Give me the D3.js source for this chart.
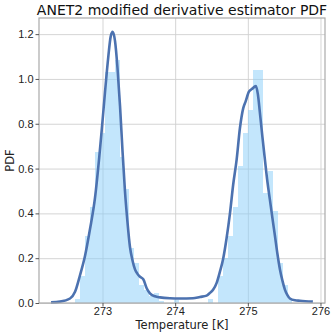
<!DOCTYPE html>
<html>
<head>
<meta charset="utf-8">
<script src="https://cdn.jsdelivr.net/npm/d3@7"></script>
<style>
  body { margin: 0; background: #fff; }
  svg { display: block; font-family: "DejaVu Sans", sans-serif; }
  .axis text { fill: #222; font-size: 11px; }
  .axis path { display: none; }
  .axis line { stroke: #555; }
  .grid line { stroke: #d0d0d0; stroke-width: 0.9; }
  .grid path { display: none; }
</style>
</head>
<body>
<div id="chart"></div>
<script>
// histogram (density), equal-width bins
const histStart = 272.622;
const binWidth = 0.068;
const histDensity = [
  0.02, 0.12, 0.30, 0.43, 0.675, 0.76, 1.03, 1.03, 1.085, 0.65,
  0.51, 0.245, 0.18, 0.08, 0.06, 0.03, 0.045, 0.01, 0, 0,
  0.015, 0, 0, 0, 0, 0, 0, 0.02, 0, 0.12,
  0.20, 0.30, 0.43, 0.61, 0.76, 0.86, 1.04, 1.04, 0.49, 0.59,
  0.41, 0.18, 0.08, 0.02
];

// KDE curve
const kdeT = [
  272.292, 272.415, 272.553, 272.622, 272.691, 272.759, 272.828, 272.897, 272.952, 272.989,
  273.034, 273.080, 273.113, 273.140, 273.172, 273.206, 273.241, 273.275, 273.309, 273.344,
  273.378, 273.413, 273.447, 273.481, 273.516, 273.561, 273.608, 273.653, 273.722, 273.791,
  273.928, 274.066, 274.245, 274.341, 274.433, 274.479, 274.524, 274.571, 274.616, 274.662,
  274.708, 274.754, 274.799, 274.846, 274.891, 274.937, 274.970, 275.015, 275.056, 275.111,
  275.139, 275.166, 275.201, 275.235, 275.270, 275.304, 275.338, 275.373, 275.407, 275.442,
  275.476, 275.510, 275.545, 275.579, 275.648, 275.717, 275.895
];
const kdeDensity = [
  0.003, 0.006, 0.02, 0.05, 0.125, 0.21, 0.33, 0.47, 0.64, 0.77,
  0.94, 1.10, 1.19, 1.21, 1.17, 1.05, 0.88, 0.68, 0.50, 0.36,
  0.25, 0.19, 0.15, 0.13, 0.117, 0.106, 0.066, 0.043, 0.03, 0.025,
  0.021, 0.02, 0.021, 0.027, 0.033, 0.045, 0.06, 0.09, 0.14, 0.20,
  0.29, 0.40, 0.53, 0.64, 0.78, 0.87, 0.90, 0.943, 0.955, 0.968,
  0.93, 0.85, 0.74, 0.64, 0.54, 0.46, 0.38, 0.30, 0.22, 0.15,
  0.10, 0.06, 0.035, 0.02, 0.012, 0.01, 0.006
];

const xTicks = [273, 274, 275, 276];
const yTicks = [0.0, 0.2, 0.4, 0.6, 0.8, 1.0, 1.2];
const xDomain = [272.126, 276.062];
const yDomain = [0, 1.272];

const totalWidth = 332, totalHeight = 335;
const margin = { top: 18, right: 7, bottom: 32, left: 39 };
const width = totalWidth - margin.left - margin.right;
const height = totalHeight - margin.top - margin.bottom;

const svg = d3.select('#chart')
  .append('svg')
  .attr('width', totalWidth)
  .attr('height', totalHeight);

const g = svg.append('g')
  .attr('transform', `translate(${margin.left},${margin.top})`);

const x = d3.scaleLinear().domain(xDomain).range([0, width]);
const y = d3.scaleLinear().domain(yDomain).range([height, 0]);

// grid
g.append('g')
  .attr('class', 'grid')
  .call(d3.axisLeft(y).tickValues(yTicks).tickSize(-width).tickFormat(''));
g.append('g')
  .attr('class', 'grid')
  .attr('transform', `translate(0,${height})`)
  .call(d3.axisBottom(x).tickValues(xTicks).tickSize(-height).tickFormat(''));

// histogram bars
const bins = histDensity.map((d, i) => ({
  x0: histStart + i * binWidth,
  x1: histStart + (i + 1) * binWidth,
  v: d
}));
g.append('g')
  .selectAll('rect')
  .data(bins.filter(b => b.v > 0))
  .join('rect')
  .attr('x', d => x(d.x0))
  .attr('width', d => x(d.x1) - x(d.x0))
  .attr('y', d => y(d.v))
  .attr('height', d => y(0) - y(d.v))
  .attr('fill', '#87cefa')
  .attr('fill-opacity', 0.5)
  .attr('shape-rendering', 'crispEdges');

// kde line
const kde = kdeT.map((t, i) => [t, kdeDensity[i]]);
g.append('path')
  .datum(kde)
  .attr('fill', 'none')
  .attr('stroke', '#4c72b0')
  .attr('stroke-width', 2.6)
  .attr('stroke-linejoin', 'round')
  .attr('d', d3.line().x(d => x(d[0])).y(d => y(d[1])).curve(d3.curveMonotoneX));

// frame
g.append('rect')
  .attr('width', width)
  .attr('height', height)
  .attr('fill', 'none')
  .attr('stroke', '#aaaaaa')
  .attr('stroke-width', 1.2);

// axes
g.append('g')
  .attr('class', 'axis')
  .attr('transform', `translate(0,${height})`)
  .call(d3.axisBottom(x).tickValues(xTicks).tickSize(3.5).tickPadding(1).tickFormat(d3.format('d')));
g.append('g')
  .attr('class', 'axis')
  .call(d3.axisLeft(y).tickValues(yTicks).tickSize(3.5).tickPadding(2).tickFormat(d3.format('.1f')));

// labels
svg.append('text')
  .attr('x', margin.left + width / 2)
  .attr('y', 15)
  .attr('text-anchor', 'middle')
  .attr('font-size', '14px')
  .attr('fill', '#111')
  .text('ANET2 modified derivative estimator PDF');

svg.append('text')
  .attr('x', margin.left + width / 2)
  .attr('y', 329)
  .attr('text-anchor', 'middle')
  .attr('font-size', '11.5px')
  .attr('fill', '#222')
  .text('Temperature [K]');

svg.append('text')
  .attr('transform', `translate(14,${margin.top + height / 2}) rotate(-90)`)
  .attr('text-anchor', 'middle')
  .attr('font-size', '11.5px')
  .attr('fill', '#222')
  .text('PDF');
</script>
</body>
</html>
